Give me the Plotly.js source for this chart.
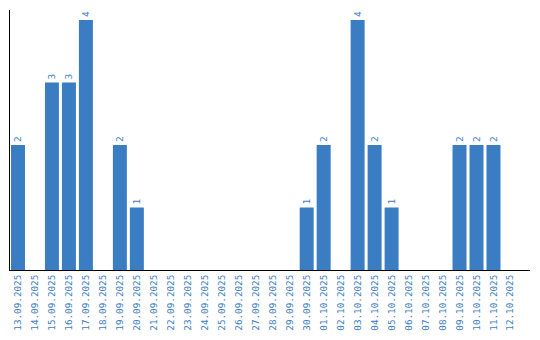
<!DOCTYPE html>
<html><head><meta charset="utf-8">
<script src="https://cdn.plot.ly/plotly-3.0.1.min.js"></script>
<style>html,body{margin:0;padding:0;background:#fff}#c{width:540px;height:340px}</style>
</head><body><div id="c"></div>
<script>
const dates = ["13.09.2025","14.09.2025","15.09.2025","16.09.2025","17.09.2025","18.09.2025","19.09.2025","20.09.2025","21.09.2025","22.09.2025","23.09.2025","24.09.2025","25.09.2025","26.09.2025","27.09.2025","28.09.2025","29.09.2025","30.09.2025","01.10.2025","02.10.2025","03.10.2025","04.10.2025","05.10.2025","06.10.2025","07.10.2025","08.10.2025","09.10.2025","10.10.2025","11.10.2025","12.10.2025"];
const counts = [2,0,3,3,4,0,2,1,0,0,0,0,0,0,0,0,0,1,2,0,4,2,1,0,0,0,2,2,2,0];
const labels = counts.map(v => v > 0 ? String(v) : "");
const blue = "#3b7dc3";
Plotly.newPlot("c", [{
  type: "bar", x: dates, y: counts, marker: {color: blue},
  text: labels, textposition: "outside", textangle: -90, cliponaxis: false,
  textfont: {family: "DejaVu Sans Mono", size: 9.5, color: blue},
  hoverinfo: "none"
}], {
  width: 540, height: 340, margin: {l: 10, r: 10, t: 10, b: 70},
  paper_bgcolor: "#fff", plot_bgcolor: "#fff", bargap: 0.176, showlegend: false,
  xaxis: {type: "category", range: [-0.47, 30.15], tickangle: -90, showline: true, linecolor: "#000", linewidth: 1,
    ticks: "", tickfont: {family: "DejaVu Sans Mono", size: 9.3, color: blue}, showgrid: false},
  yaxis: {range: [0, 4.16], showline: true, linecolor: "#000", linewidth: 1, showticklabels: false,
    ticks: "", showgrid: false, zeroline: false}
}, {displayModeBar: false, staticPlot: true});
</script></body></html>
